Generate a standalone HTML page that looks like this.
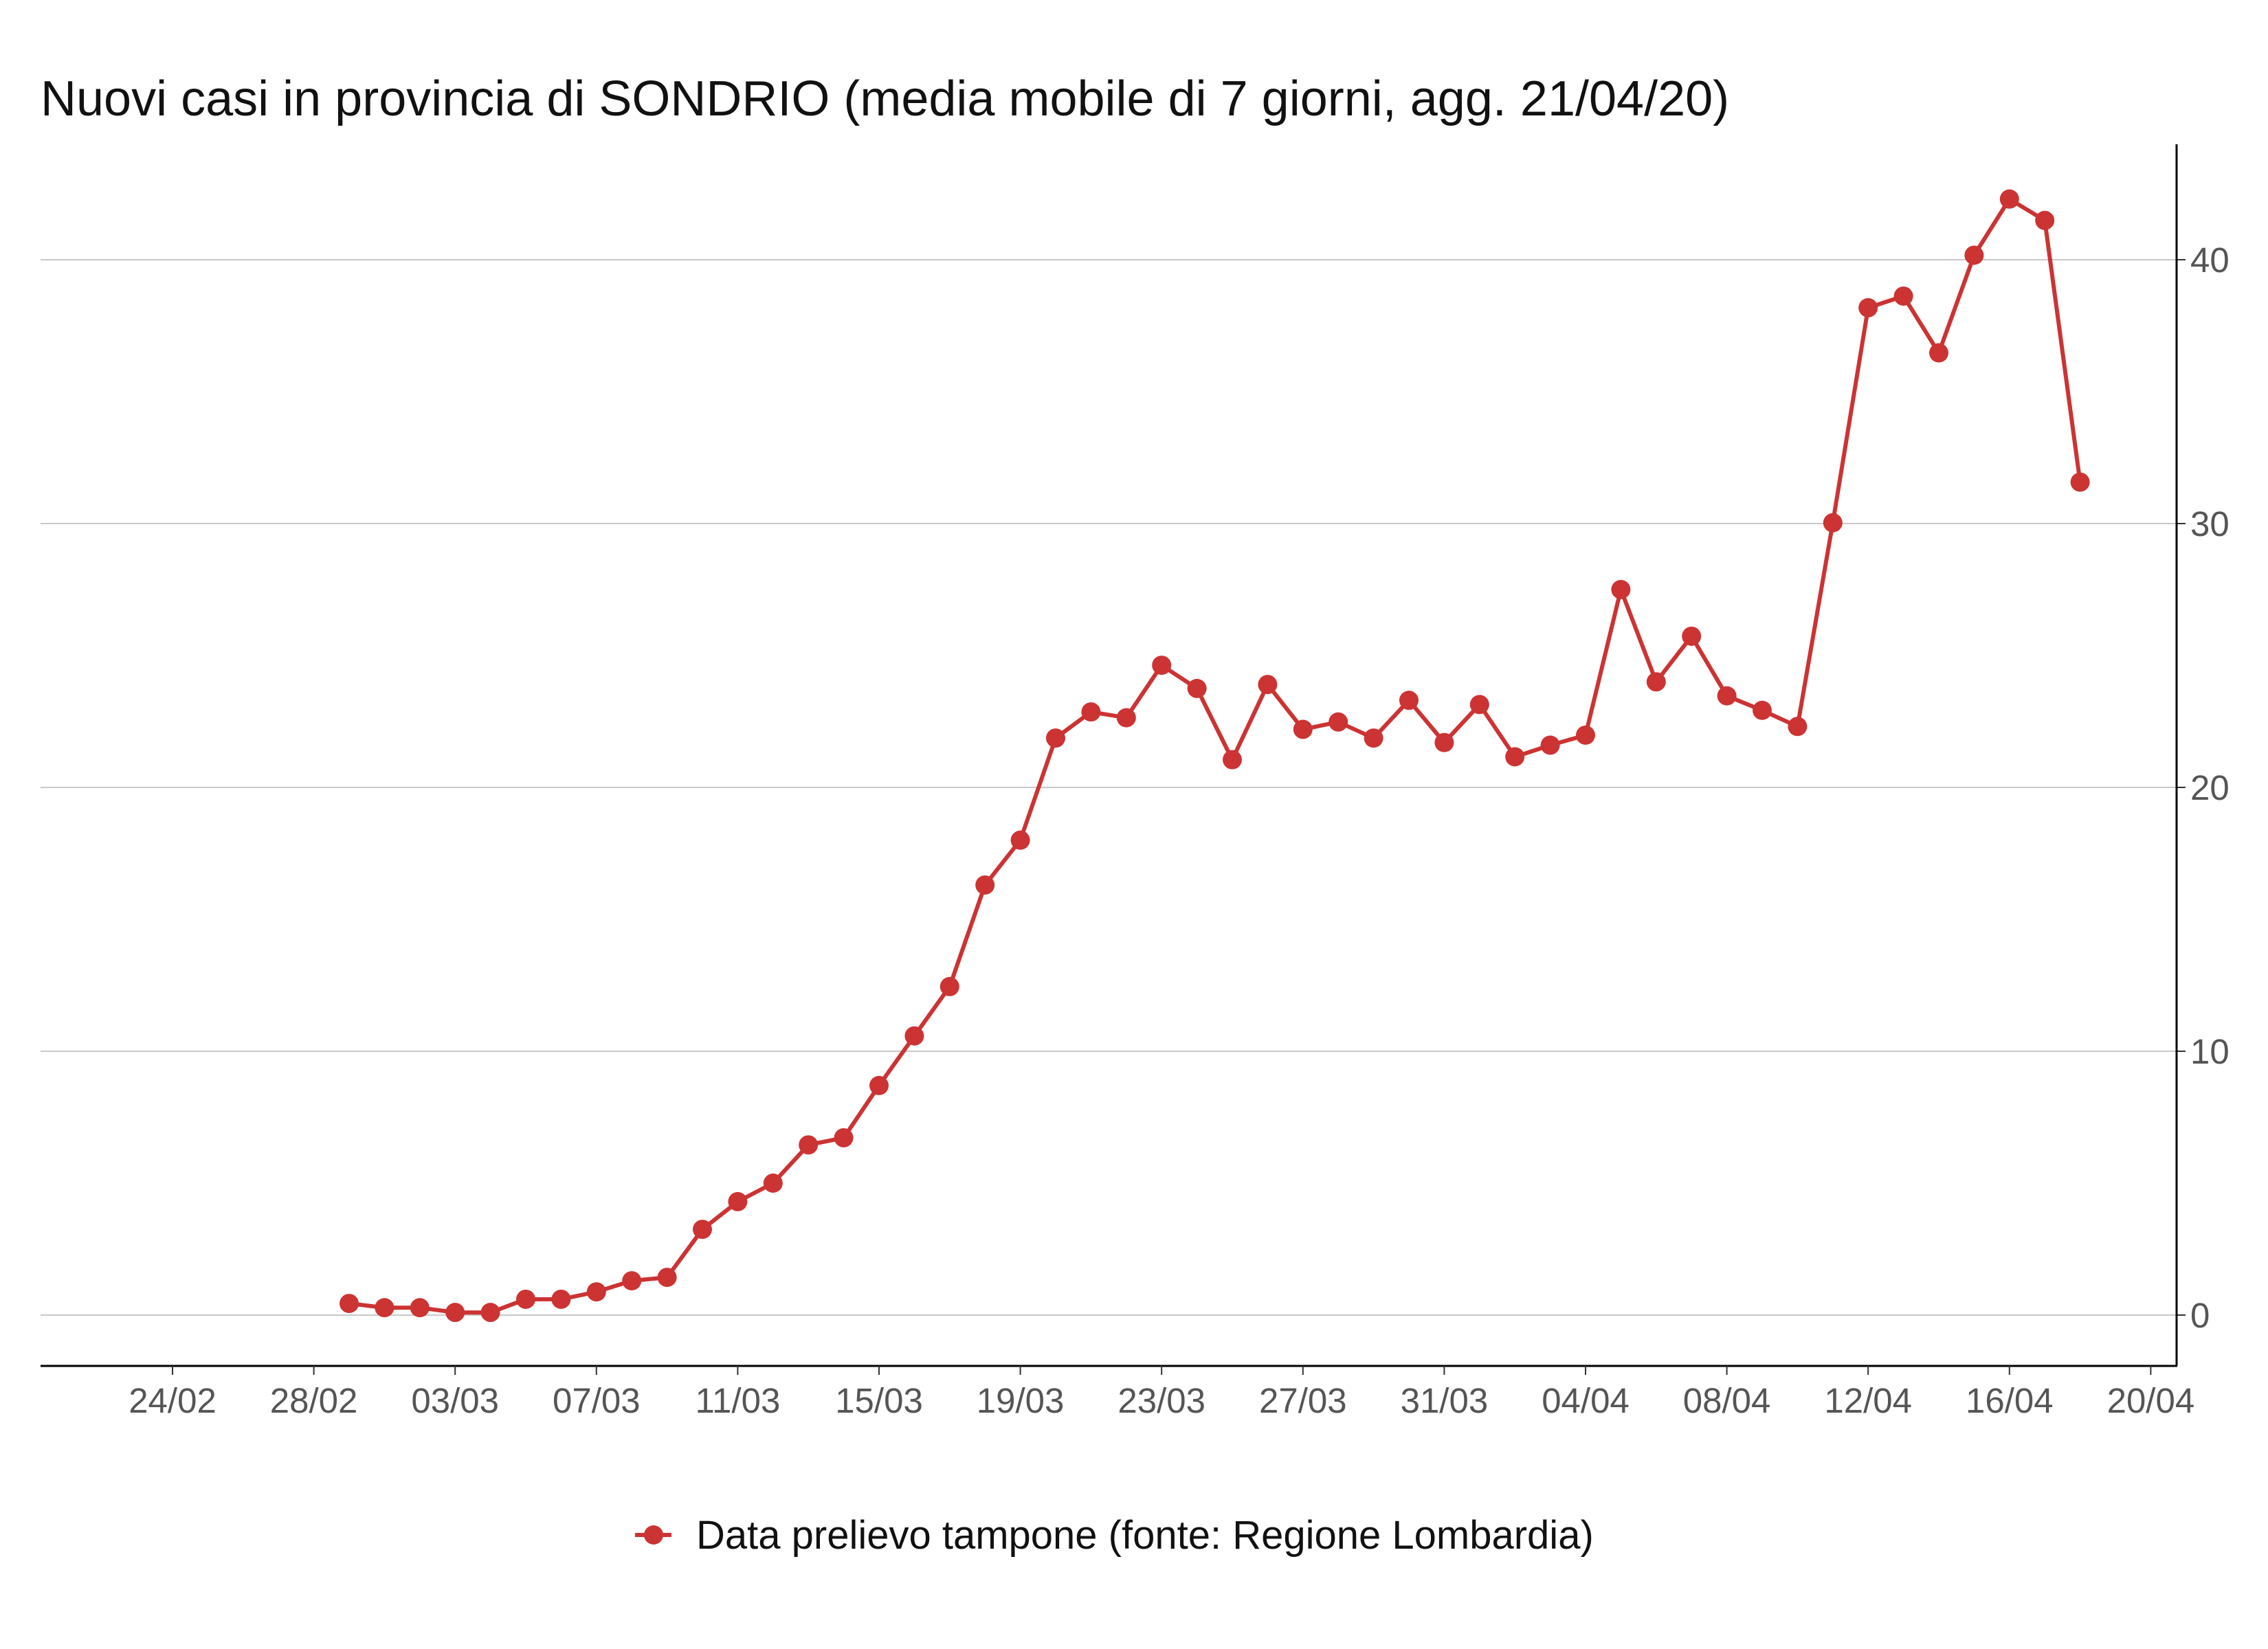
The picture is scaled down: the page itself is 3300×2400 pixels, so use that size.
<!DOCTYPE html>
<html><head><meta charset="utf-8"><style>
html,body{margin:0;padding:0;background:#fff;}
svg{display:block;font-family:"Liberation Sans",sans-serif;}
</style></head><body>
<svg id="chart" width="3300" height="2400" viewBox="0 0 3300 2400" xmlns="http://www.w3.org/2000/svg">
<rect width="3300" height="2400" fill="#fff"/>
<text x="59" y="168" font-size="72" fill="#111">Nuovi casi in provincia di SONDRIO (media mobile di 7 giorni, agg. 21/04/20)</text>
<g id="grid"></g>
<g id="yaxis"></g>
<g id="xaxis"></g>
<g id="series"></g>
<g>
<line x1="924" y1="2234" x2="977" y2="2234" stroke="#cc3333" stroke-width="6"/>
<circle cx="951" cy="2234" r="14" fill="#cc3333"/>
<text x="1013" y="2254" font-size="58" fill="#111">Data prelievo tampone (fonte: Regione Lombardia)</text>
</g>
</svg>
<script>
const startDate = [2020, 1, 29]; // 29 Feb 2020
const values = [0.44,0.28,0.28,0.1,0.1,0.6,0.6,0.88,1.3,1.43,3.25,4.3,5.0,6.45,6.72,8.7,10.58,12.45,16.3,18.0,21.87,22.86,22.64,24.63,23.75,21.05,23.9,22.2,22.48,21.87,23.3,21.7,23.14,21.16,21.6,21.98,27.5,24.0,25.73,23.47,22.92,22.31,30.03,38.18,38.62,36.47,40.17,42.3,41.49,31.57];
const yTicks = [0,10,20,30,40];
const xTickLabels = ["24/02","28/02","03/03","07/03","11/03","15/03","19/03","23/03","27/03","31/03","04/04","08/04","12/04","16/04","20/04"];
const xTickDayOffsets = [-5,-1,3,7,11,15,19,23,27,31,35,39,43,47,51]; // days from 29/02

const NS = "http://www.w3.org/2000/svg";
const X0 = 508, DAY = 51.4, Y0 = 1914, UNIT = 38.4;
const L = 59, R = 3167, B = 1988, T = 210;
function xs(d){ return X0 + d*DAY; }
function ys(v){ return Y0 - v*UNIT; }
function mk(tag, attrs, parent){ const e=document.createElementNS(NS,tag); for(const k in attrs) e.setAttribute(k,attrs[k]); parent.appendChild(e); return e; }

const grid=document.getElementById('grid'), ya=document.getElementById('yaxis'), xa=document.getElementById('xaxis'), se=document.getElementById('series');
yTicks.forEach(v=>{
  const g=mk('line',{x1:L,x2:R,y1:ys(v),y2:ys(v),stroke:'#c8c8c8','stroke-width':2},grid);
  
  
  const t=mk('line',{x1:R,x2:R+13,y1:ys(v),y2:ys(v),stroke:'#333','stroke-width':2},ya);
  
  
  const lb=mk('text',{x:R+20,y:ys(v)+18,'font-size':51,fill:'#555'},ya);
  lb.textContent=String(v);
  
  
});
const ax=mk('line',{x1:R,x2:R,y1:T,y2:B,stroke:'#000','stroke-width':3},ya);


const bx=mk('line',{x1:L,x2:R+1,y1:B,y2:B,stroke:'#000','stroke-width':3},xa);


xTickLabels.forEach((lab,i)=>{
  const x=xs(xTickDayOffsets[i]);
  const t=mk('line',{x1:x,x2:x,y1:B,y2:B+13,stroke:'#333','stroke-width':2},xa);
  
  
  const lb=mk('text',{x:x,y:2056,'font-size':51,fill:'#555','text-anchor':'middle'},xa);
  lb.textContent=lab;
  
  
});
const pts=values.map((v,i)=>xs(i).toFixed(1)+','+ys(v).toFixed(1)).join(' ');
const pl=mk('polyline',{points:pts,fill:'none',stroke:'#cc3333','stroke-width':6,'stroke-linejoin':'round'},se);


values.forEach((v,i)=>{
  const c=mk('circle',{cx:xs(i),cy:ys(v),r:14,fill:'#cc3333'},se);
  
  
});
</script>
</body></html>
